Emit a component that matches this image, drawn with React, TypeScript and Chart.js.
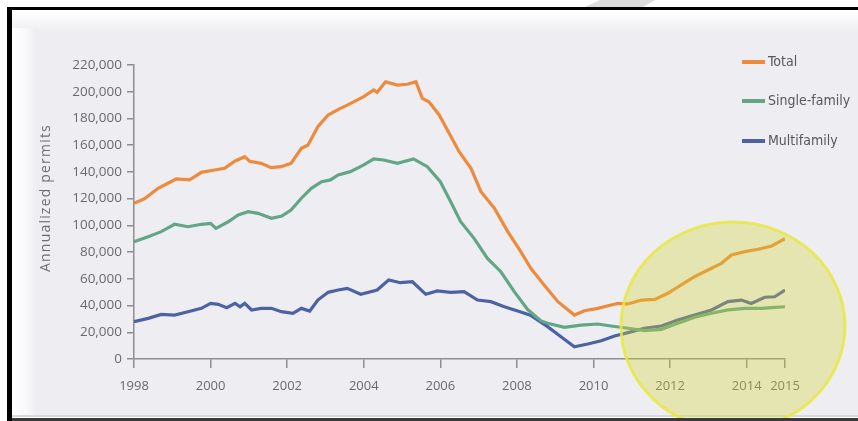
import React, { useEffect, useRef } from "react";
import { Chart, registerables } from "chart.js";

Chart.register(...registerables);

const yearTicks = [1998, 2000, 2002, 2004, 2006, 2008, 2010, 2012, 2014, 2015];

const totalYears = [1998.0, 1998.28, 1998.63, 1999.1, 1999.45, 1999.76, 2000.1, 2000.37, 2000.63, 2000.89, 2001.02, 2001.32, 2001.58, 2001.84, 2002.1, 2002.37, 2002.54, 2002.8, 2003.07, 2003.35, 2003.57, 2004.0, 2004.26, 2004.35, 2004.57, 2004.88, 2005.14, 2005.36, 2005.53, 2005.7, 2005.97, 2006.23, 2006.49, 2006.8, 2007.06, 2007.41, 2007.76, 2008.1, 2008.37, 2008.71, 2009.07, 2009.5, 2009.76, 2010.11, 2010.46, 2010.64, 2010.9, 2011.25, 2011.6, 2011.94, 2012.29, 2012.64, 2012.99, 2013.34, 2013.6, 2013.95, 2014.3, 2014.65, 2015.0];
const totalValues = [116500, 120000, 127700, 134700, 134000, 139700, 141400, 142700, 148000, 151400, 148000, 146400, 143200, 143900, 146400, 157700, 160000, 173800, 182600, 187000, 190000, 196300, 201300, 199600, 207500, 205000, 205600, 207500, 195000, 192500, 182600, 168900, 155100, 142700, 125200, 112800, 95300, 80300, 67500, 55400, 42900, 32900, 36100, 37900, 40400, 41600, 41200, 44100, 44600, 49200, 55400, 61600, 66600, 71600, 77800, 80300, 82100, 84600, 90000];

const singleYears = [1998.0, 1998.37, 1998.71, 1999.06, 1999.41, 1999.76, 2000.0, 2000.14, 2000.46, 2000.72, 2000.98, 2001.24, 2001.59, 2001.86, 2002.1, 2002.37, 2002.63, 2002.9, 2003.13, 2003.33, 2003.65, 2004.0, 2004.26, 2004.52, 2004.88, 2005.3, 2005.66, 2006.0, 2006.27, 2006.53, 2006.88, 2007.23, 2007.58, 2007.93, 2008.28, 2008.63, 2008.8, 2009.24, 2009.67, 2010.11, 2010.46, 2010.9, 2011.33, 2011.77, 2012.2, 2012.64, 2013.08, 2013.51, 2013.95, 2014.39, 2014.74, 2015.0];
const singleValues = [87800, 91500, 95300, 100800, 99000, 100800, 101500, 97800, 102700, 107800, 110200, 109000, 105300, 107000, 111500, 120300, 127700, 132700, 134000, 137700, 140200, 145200, 149700, 148900, 146400, 149700, 143900, 132700, 117700, 102700, 90300, 75300, 65300, 50400, 37000, 28500, 26700, 23700, 25400, 26200, 24700, 23000, 21200, 22200, 26700, 31200, 34200, 36700, 37900, 37900, 38700, 39100];

const multiYears = [1998.0, 1998.37, 1998.71, 1999.06, 1999.41, 1999.76, 2000.0, 2000.2, 2000.42, 2000.64, 2000.77, 2000.89, 2001.07, 2001.32, 2001.59, 2001.85, 2002.15, 2002.37, 2002.59, 2002.8, 2003.07, 2003.33, 2003.57, 2003.92, 2004.35, 2004.65, 2004.96, 2005.27, 2005.62, 2005.92, 2006.27, 2006.62, 2006.97, 2007.32, 2007.67, 2008.02, 2008.37, 2008.8, 2009.15, 2009.5, 2009.85, 2010.2, 2010.55, 2010.9, 2011.33, 2011.77, 2012.2, 2012.64, 2013.08, 2013.51, 2013.86, 2014.12, 2014.47, 2014.73, 2015.0];
const multiValues = [27900, 30400, 33400, 32900, 35400, 37900, 41600, 40900, 38400, 41600, 39100, 41600, 36700, 37900, 37900, 35400, 34200, 37900, 35900, 44100, 49900, 51600, 52900, 48400, 51600, 59100, 57100, 57800, 48400, 50900, 49900, 50400, 44100, 42900, 39100, 35900, 32500, 24200, 16700, 9200, 11200, 13700, 17200, 19700, 23000, 24700, 29200, 32900, 36700, 42900, 44100, 41600, 46200, 46600, 51600];

const seriesNames = ["Total", "Single-family", "Multifamily"];
const seriesColors = ["#ee8a3c", "#62a687", "#4d62a3"];
const yTitle = "Annualized permits";

const toPoints = (xs: number[], ys: number[]) => xs.map((x, i) => ({ x, y: ys[i] }));

const framePlugin = {
  id: "frame",
  beforeDraw(chart: any) {
    const ctx = chart.ctx;
    const W = chart.width;
    const H = chart.height;
    ctx.save();
    ctx.fillStyle = "#ffffff";
    ctx.fillRect(0, 0, W, H);
    ctx.fillStyle = "#eeeef2";
    ctx.fillRect(34, 31, W - 34, 386);
    let g = ctx.createLinearGradient(0, 11, 0, 32);
    g.addColorStop(0, "#ffffff");
    g.addColorStop(1, "#eeeef2");
    ctx.fillStyle = g;
    ctx.fillRect(12, 11, W - 12, 21);
    g = ctx.createLinearGradient(12, 0, 36, 0);
    g.addColorStop(0, "#ffffff");
    g.addColorStop(0.6, "#f8f8fa");
    g.addColorStop(1, "#eeeef2");
    ctx.fillStyle = g;
    ctx.fillRect(12, 28, 24, 389);
    ctx.fillStyle = "#dcdcdc";
    ctx.beginPath();
    ctx.moveTo(600, 0);
    ctx.lineTo(655, 0);
    ctx.lineTo(643, 7);
    ctx.lineTo(585, 7);
    ctx.closePath();
    ctx.fill();
    ctx.fillStyle = "#000000";
    ctx.fillRect(7, 7, W - 7, 3);
    ctx.fillRect(7, 7, 5, H - 7);
    ctx.fillStyle = "#d8d8dc";
    ctx.fillRect(12, 415, W - 12, 2);
    ctx.fillStyle = "#3a3a3a";
    ctx.fillRect(12, 418, W - 12, 3);
    ctx.restore();
  },
  afterDraw(chart: any) {
    const ctx = chart.ctx;
    ctx.save();
    ctx.beginPath();
    ctx.rect(12, 11, chart.width - 12, 407);
    ctx.clip();
    ctx.beginPath();
    ctx.ellipse(733, 326, 112, 104, 0, 0, Math.PI * 2);
    ctx.fillStyle = "rgba(212,212,45,0.32)";
    ctx.fill();
    ctx.lineWidth = 3;
    ctx.strokeStyle = "rgba(232,232,70,0.85)";
    ctx.stroke();
    ctx.restore();

    ctx.save();
    ctx.translate(46, 198);
    ctx.rotate(-Math.PI / 2);
    ctx.fillStyle = "#6e6e72";
    ctx.font = "14px 'Open Sans', sans-serif";
    (ctx as any).letterSpacing = "1.2px";
    ctx.textAlign = "center";
    ctx.textBaseline = "middle";
    ctx.fillText(yTitle, 0, 0);
    ctx.restore();

    ctx.save();
    const ys = [62, 101, 141];
    ctx.font = "14px 'Liberation Sans Narrow', 'DejaVu Sans Condensed', sans-serif";
    ctx.textBaseline = "middle";
    ctx.textAlign = "left";
    seriesNames.forEach((name, i) => {
      ctx.strokeStyle = seriesColors[i];
      ctx.lineWidth = 4;
      ctx.beginPath();
      ctx.moveTo(742, ys[i]);
      ctx.lineTo(765, ys[i]);
      ctx.stroke();
      ctx.fillStyle = "#58585c";
      ctx.fillText(name, 768, ys[i]);
    });
    ctx.restore();
  },
};

export default function App() {
  const ref = useRef<HTMLCanvasElement>(null);
  useEffect(() => {
    if (!ref.current) return;
    const chart = new Chart(ref.current, {
      type: "line",
      data: {
        datasets: [
          { label: seriesNames[0], data: toPoints(totalYears, totalValues), borderColor: seriesColors[0], borderWidth: 3.2, pointRadius: 0, tension: 0 },
          { label: seriesNames[1], data: toPoints(singleYears, singleValues), borderColor: seriesColors[1], borderWidth: 3.2, pointRadius: 0, tension: 0 },
          { label: seriesNames[2], data: toPoints(multiYears, multiValues), borderColor: seriesColors[2], borderWidth: 3.2, pointRadius: 0, tension: 0 },
        ],
      },
      options: {
        animation: false,
        responsive: true,
        maintainAspectRatio: false,
        layout: { padding: { left: 0, top: 65, right: 73, bottom: 0 } },
        plugins: { legend: { display: false }, tooltip: { enabled: false }, title: { display: false } },
        scales: {
          x: {
            type: "linear",
            min: 1998,
            max: 2015,
            afterBuildTicks: (scale: any) => {
              scale.ticks = yearTicks.map((v) => ({ value: v }));
            },
            afterFit: (scale: any) => {
              scale.height = 62;
            },
            grid: { display: true, drawOnChartArea: false, drawTicks: true, tickLength: 9, color: "#8e8e92", lineWidth: 1.5 },
            border: { display: true, color: "#8e8e92", width: 1.5 },
            ticks: {
              autoSkip: false,
              maxRotation: 0,
              padding: 10,
              color: "#6a6a6e",
              font: { family: "'Open Sans', sans-serif", size: 13 },
              callback: (v: any) => String(v),
            },
          },
          y: {
            min: 0,
            max: 220000,
            afterFit: (scale: any) => {
              scale.width = 134;
            },
            grid: { display: true, drawOnChartArea: false, drawTicks: true, tickLength: 7, color: "#8e8e92", lineWidth: 1.5 },
            border: { display: true, color: "#8e8e92", width: 1.5 },
            ticks: {
              stepSize: 20000,
              padding: 5,
              color: "#6a6a6e",
              font: { family: "'Open Sans', sans-serif", size: 13.5 },
              callback: (v: any) => Number(v).toLocaleString("en-US"),
            },
          },
        },
      },
      plugins: [framePlugin],
    } as any);
    return () => chart.destroy();
  }, []);
  return (
    <div style={{ position: "fixed", left: 0, top: 0, width: 858, height: 421 }}>
      <canvas ref={ref} />
    </div>
  );
}
